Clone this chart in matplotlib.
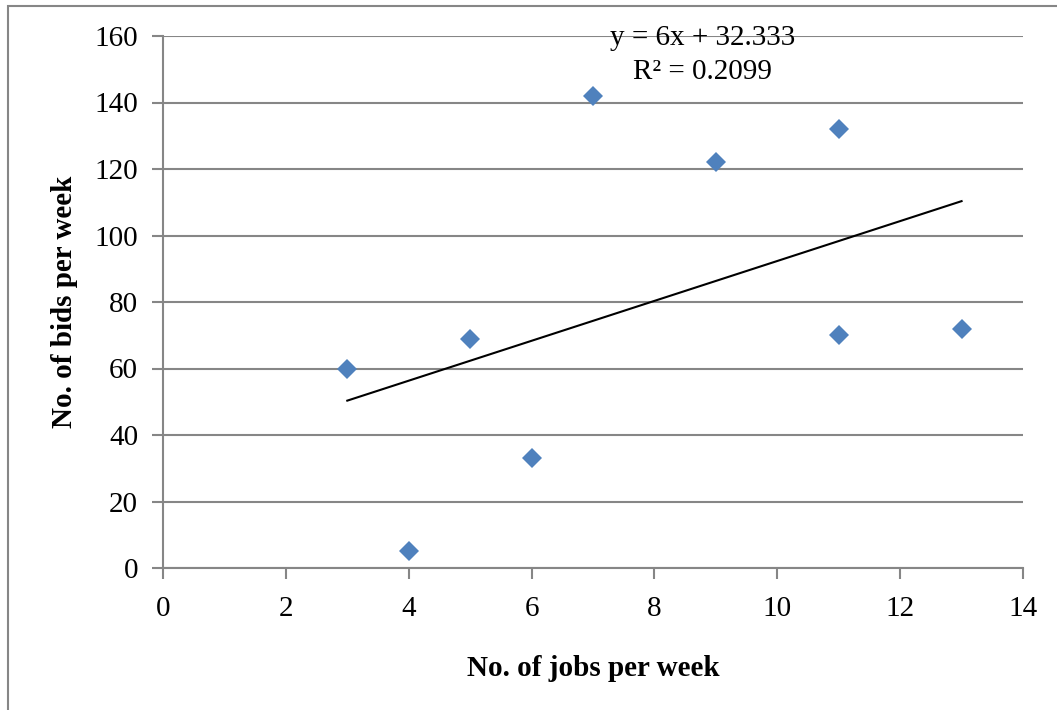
import numpy as np
import matplotlib
matplotlib.use("Agg")
import matplotlib.pyplot as plt
from matplotlib.patches import Rectangle

jobs_per_week = [3, 4, 5, 6, 7, 9, 11, 11, 13]
bids_per_week = [60, 5, 69, 33, 142, 122, 132, 70, 72]
x_ticks = [0, 2, 4, 6, 8, 10, 12, 14]
y_ticks = [0, 20, 40, 60, 80, 100, 120, 140, 160]

plt.rcParams['font.family'] = ['Liberation Serif', 'DejaVu Serif']

fig = plt.figure(figsize=(10.57, 7.10), dpi=100)
ax = fig.add_axes([163/1057, 1 - 568/710, 860/1057, 532/710])

grid_col = '#868686'
x = np.array(jobs_per_week, dtype=float)
y = np.array(bids_per_week, dtype=float)
slope, intercept = np.polyfit(x, y, 1)
pred = slope * x + intercept
r2 = 1 - np.sum((y - pred) ** 2) / np.sum((y - y.mean()) ** 2)

xl = np.array([x.min(), x.max()])
ax.plot(xl, slope * xl + intercept, color='black', lw=1.5, zorder=3)
ax.plot(x, y, linestyle='none', marker='D', markersize=10.5,
        color='#4F81BD', markeredgewidth=0, zorder=4)

ax.set_xlim(0, 14)
ax.set_ylim(0, 160)
ax.set_xticks(x_ticks)
ax.set_yticks(y_ticks)
ax.set_xticklabels([str(t) for t in x_ticks])
ax.set_yticklabels([str(t) for t in y_ticks])
ax.yaxis.grid(True, color=grid_col, lw=1.5)
ax.set_axisbelow(True)
for s in ['top', 'right']:
    ax.spines[s].set_visible(False)
for s in ['left', 'bottom']:
    ax.spines[s].set_color(grid_col)
    ax.spines[s].set_linewidth(1.5)
ax.tick_params(axis='both', direction='out', length=8, width=1.5,
               color=grid_col, labelsize=21)
ax.tick_params(axis='x', pad=12)
ax.tick_params(axis='y', pad=10)

ax.set_xlabel('No. of jobs per week', fontsize=21, fontweight='bold', labelpad=24)
ax.set_ylabel('No. of bids per week', fontsize=21, fontweight='bold', labelpad=12)

ax.text(8.79, 159.4, f'y = {slope:.0f}x + {intercept:.3f}', fontsize=21,
        ha='center', va='center', zorder=5)
ax.text(8.79, 149.2, f'R² = {r2:.4f}', fontsize=21,
        ha='center', va='center', zorder=5)

fig.patches.append(Rectangle((8/1057, -0.1), 1.2, 1 - 6/710 + 0.1,
                             transform=fig.transFigure, fill=False,
                             edgecolor=grid_col, lw=1.5))

fig.savefig('out.png', dpi=100)
